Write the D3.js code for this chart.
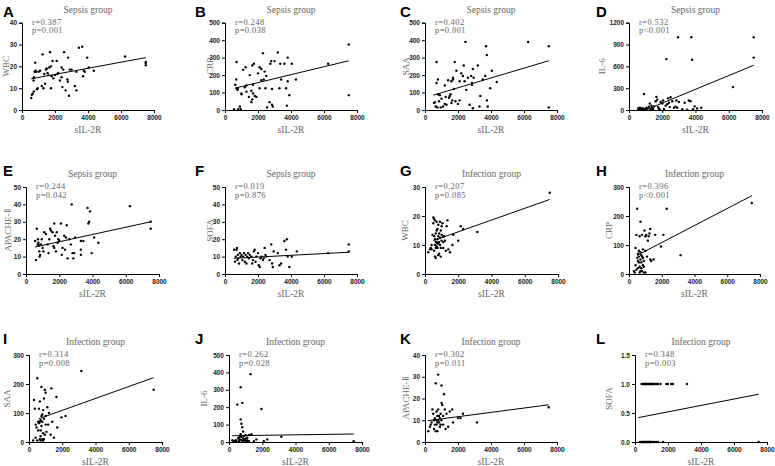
<!DOCTYPE html>
<html lang="en">
<head>
    <meta charset="UTF-8">
    <script src="https://d3js.org/d3.v7.min.js"></script>
    <title>sIL-2R correlations</title>
    <style>
        html,
        body {
            margin: 0px;
            padding: 0px;
            background-color: #ffffff;
        }
        .tick text {
            font-family: "Liberation Sans", Arial, sans-serif;
            font-weight: bold;
            font-size: 6.5px;
            fill: #222;
        }
        .serif {
            font-family: "Liberation Serif", "Times New Roman", serif;
            fill: #666;
        }
        .stat {
            letter-spacing: 0.4px;
        }
        .letter {
            font-family: "Liberation Sans", Arial, sans-serif;
            font-weight: bold;
            font-size: 15px;
            fill: #000;
        }
    </style>
</head>
<body>
    <div id="chart"></div>
    <script>

        // --- chart data ---
        const letters = ["A", "B", "C", "D", "E", "F", "G", "H", "I", "J", "K", "L"];
        const groupTitles = ["Sepsis group", "Sepsis group", "Sepsis group", "Sepsis group",
            "Sepsis group", "Sepsis group", "Infection group", "Infection group",
            "Infection group", "Infection group", "Infection group", "Infection group"];
        const yLabels = ["WBC", "CRP", "SAA", "IL-6", "APACHE-Ⅱ", "SOFA",
            "WBC", "CRP", "SAA", "IL-6", "APACHE-Ⅱ", "SOFA"];
        const rLabels = ["r=0.387", "r=0.248", "r=0.402", "r=0.532", "r=0.244", "r=0.019",
            "r=0.207", "r=0.396", "r=0.314", "r=0.262", "r=0.302", "r=0.348"];
        const pLabels = ["p=0.001", "p=0.038", "p=0.001", "p<0.001", "p=0.042", "p=0.876",
            "p=0.085", "p<0.001", "p=0.008", "p=0.028", "p=0.011", "p=0.003"];
        const yMaxes = [40, 500, 500, 1200, 50, 50, 30, 300, 300, 500, 40, 1.5];
        const yTicks = [
            [0, 10, 20, 30, 40], [0, 100, 200, 300, 400, 500], [0, 100, 200, 300, 400, 500],
            [0, 300, 600, 900, 1200], [0, 10, 20, 30, 40, 50], [0, 10, 20, 30, 40, 50],
            [0, 10, 20, 30], [0, 100, 200, 300], [0, 100, 200, 300],
            [0, 100, 200, 300, 400, 500], [0, 10, 20, 30, 40], [0, 0.5, 1.0, 1.5]];
        const xTicks = [0, 2000, 4000, 6000, 8000];
        const xLabel = "sIL-2R";

        // fitted lines as drawn: [x0, y0, x1, y1]
        const fitLines = [
            [560, 14.3, 7500, 24], [600, 125, 7500, 282], [500, 85, 7500, 282],
            [1100, 10, 7500, 615], [540, 15.5, 7500, 30], [540, 9, 7500, 12.5],
            [500, 11.5, 7500, 25.7], [490, 64, 7500, 270], [580, 80, 7500, 222],
            [200, 36, 7500, 46], [160, 9.8, 7500, 17.1], [200, 0.42, 7500, 0.824]];

        const sepsisWBC = [[560,5.5],[600,7],[650,7.5],[720,8.5],[700,13.5],[720,15],[760,17.5],[800,21.7],[820,18],[850,17.5],[900,9.5],[950,10],[1000,17.5],[1100,18],[1200,11],[1250,25.5],[1300,10],[1350,16.5],[1400,12],[1450,18.5],[1500,19],[1550,17],[1600,16],[1650,19.5],[1700,26.5],[1750,10],[1750,20],[1800,15.5],[1850,22.5],[1900,14.5],[2000,16],[2100,22.5],[2150,16.5],[2200,17],[2300,13.5],[2400,15],[2400,19.5],[2450,10.5],[2500,18.5],[2550,26.5],[2650,9],[2750,14],[2780,13],[2800,24],[2850,6.5],[2900,18.5],[3000,18.5],[3200,11],[3300,9],[3300,17.5],[3450,28.5],[3650,29],[3700,15.5],[3750,18],[3800,17.5],[3950,24],[4050,19.5],[4350,18],[6250,24.5],[7500,22],[7500,20.5],[7500,21.5]];
        const sepsisCRP = [[550,5],[620,145],[680,175],[700,275],[720,125],[750,115],[780,120],[800,5],[900,20],[950,5],[1000,90],[1000,95],[1100,230],[1200,130],[1250,245],[1300,140],[1300,105],[1450,75],[1500,200],[1600,45],[1600,110],[1650,255],[1650,60],[1700,95],[1700,145],[1750,265],[1800,80],[1900,75],[2000,210],[2100,245],[2100,125],[2200,170],[2200,235],[2300,325],[2350,175],[2400,220],[2450,125],[2500,195],[2550,15],[2700,45],[2750,265],[2800,280],[2850,30],[2900,20],[2850,120],[3000,280],[3200,330],[3300,125],[3350,265],[3400,175],[3600,265],[3700,125],[3750,25],[3800,300],[3800,165],[3900,85],[4050,265],[4300,175],[6250,265],[7500,375],[7500,85]];
        const sepsisSAA = [[550,40],[600,45],[650,20],[700,275],[700,155],[750,15],[780,175],[800,90],[850,50],[900,85],[950,15],[1000,65],[1100,20],[1200,140],[1200,35],[1250,75],[1300,30],[1400,170],[1450,70],[1500,80],[1550,90],[1600,165],[1600,40],[1650,55],[1700,185],[1700,175],[1750,120],[1800,275],[1850,50],[1900,225],[2000,35],[2100,55],[2100,165],[2200,210],[2300,195],[2350,255],[2400,165],[2450,390],[2500,115],[2600,185],[2700,30],[2800,195],[2850,145],[2850,155],[2900,10],[2900,235],[2950,185],[3200,255],[3300,20],[3350,80],[3500,175],[3650,195],[3700,365],[3750,315],[3750,55],[3800,20],[3950,125],[4050,225],[4350,160],[6250,390],[7500,365],[7500,15]];
        const sepsisIL6 = [[550,20],[600,10],[650,30],[700,15],[750,25],[800,5],[850,20],[900,220],[950,10],[1000,15],[1050,30],[1100,20],[1200,45],[1250,90],[1300,10],[1350,60],[1400,30],[1450,15],[1500,50],[1600,120],[1650,180],[1700,140],[1750,40],[1800,20],[1850,5],[1900,110],[2000,90],[2050,130],[2100,15],[2200,60],[2250,700],[2300,80],[2350,160],[2400,100],[2450,40],[2500,175],[2600,120],[2700,30],[2800,45],[2850,130],[2900,30],[2950,1000],[3000,110],[3200,10],[3350,100],[3500,5],[3600,130],[3700,120],[3750,1000],[3800,690],[3850,10],[3950,50],[4100,20],[4350,30],[6250,315],[7500,1000],[7500,720]];
        const sepsisAPACHE = [[550,19],[600,8],[650,26],[700,17],[720,20],[750,18],[780,16.5],[800,13],[820,10],[850,11],[900,17],[950,20],[1000,15],[1050,13],[1100,24],[1200,23],[1300,17],[1350,12],[1400,20],[1450,26],[1500,25],[1600,24],[1650,16],[1700,29],[1700,15],[1750,22],[1800,13],[1850,24],[1900,18],[1950,20],[2000,19],[2100,29],[2150,11],[2200,15],[2300,22],[2350,14],[2400,21],[2450,28],[2500,9],[2600,20],[2700,17],[2750,40],[2800,12],[2850,9],[2900,12],[2950,21],[3300,19],[3300,14],[3300,11],[3450,19],[3700,38],[3750,29],[3800,30],[3850,36],[3950,12],[4100,21],[4350,18],[6250,39],[7500,30],[7500,26]];
        const sepsisSOFA = [[550,14],[600,7],[650,10],[700,14],[720,15],[750,8],[780,11],[800,9],[850,6],[900,12],[950,10],[1000,11],[1050,8],[1100,10],[1150,12],[1200,7],[1250,11],[1300,6],[1350,10],[1400,12],[1450,9],[1500,11],[1600,10],[1650,6],[1700,8],[1750,13],[1800,14],[1850,7],[1900,10],[2000,12],[2050,5],[2100,4],[2150,9],[2200,10],[2300,8],[2350,9],[2400,15],[2450,11],[2500,10],[2700,8],[2800,17],[2850,6],[2900,4],[2950,13],[3200,12],[3300,5],[3400,6],[3600,19],[3700,14],[3750,20],[3800,10],[3900,4],[4050,10],[4350,13],[6250,12],[7500,17],[7500,13]];
        const infectionWBC = [[200,7.5],[300,8.5],[350,9],[400,10],[400,8.5],[450,13.5],[500,19.5],[500,17.5],[550,19],[550,8],[550,13],[600,12],[600,18.5],[600,6],[600,10],[650,5.5],[650,9],[650,14],[650,11],[700,11],[700,18],[700,9.5],[700,15],[750,10.5],[750,15.5],[750,12],[750,9],[800,13],[800,17],[800,10.5],[800,6.5],[850,7],[850,14],[850,11],[900,18],[900,10],[900,12.5],[950,6],[950,9],[950,15],[1000,16.5],[1000,11.5],[1000,13.5],[1050,17.5],[1100,11],[1100,9],[1100,13],[1150,13],[1200,11.5],[1250,8],[1300,16.5],[1350,18.5],[1400,8.5],[1500,7.5],[1650,10],[1700,13.5],[2000,11.5],[2150,16.5],[2300,15.5],[3150,14.5],[7500,28]];
        const infectionCRP = [[300,10],[350,5],[400,90],[400,30],[450,135],[450,15],[500,225],[500,55],[550,45],[550,20],[550,70],[600,80],[600,60],[600,40],[650,130],[650,25],[650,5],[700,180],[700,50],[700,75],[700,10],[750,40],[750,20],[750,65],[800,60],[800,135],[800,10],[850,30],[850,55],[850,85],[900,45],[900,5],[900,25],[950,150],[1000,130],[1000,80],[1000,5],[1050,135],[1100,60],[1150,115],[1200,130],[1250,140],[1300,155],[1300,50],[1350,45],[1500,50],[1600,135],[1950,95],[2100,135],[2300,225],[3150,65],[7500,245]];
        const infectionSAA = [[250,5],[300,145],[350,115],[400,60],[400,15],[450,50],[500,220],[500,5],[550,40],[550,70],[600,115],[600,65],[650,70],[650,140],[650,10],[700,20],[700,5],[700,75],[700,40],[750,190],[750,90],[750,55],[800,10],[800,95],[800,70],[850,5],[850,110],[850,30],[900,80],[900,150],[900,10],[950,180],[950,25],[1000,170],[1000,90],[1000,60],[1050,35],[1100,120],[1150,60],[1200,100],[1300,25],[1350,185],[1400,70],[1500,15],[1650,155],[1700,50],[1950,85],[2200,90],[3150,245],[7500,180]];
        const infectionIL6 = [[200,10],[300,5],[400,10],[450,5],[500,215],[550,20],[600,5],[600,25],[650,30],[650,15],[700,315],[700,130],[700,45],[750,105],[750,10],[750,30],[800,85],[800,225],[850,60],[850,20],[850,5],[900,35],[900,15],[950,10],[1000,40],[1000,20],[1050,5],[1100,25],[1100,10],[1200,40],[1200,5],[1300,390],[1350,45],[1500,5],[1650,15],[1950,190],[2100,5],[2300,15],[3150,30],[7500,5]];
        const infectionAPACHE = [[200,5],[300,7],[350,8],[400,9],[450,15],[500,13],[550,10],[550,6],[600,11],[600,8],[650,27],[650,5],[700,14],[700,8],[700,10],[750,12],[750,5],[750,9],[800,31],[800,10],[800,15],[850,9],[850,12],[900,11],[900,7],[950,13],[950,8],[1000,26],[1000,18],[1000,10],[1050,17],[1100,8],[1100,12],[1150,22],[1200,15],[1250,6],[1300,13],[1400,7],[1500,14],[1650,15],[1700,9],[2000,11],[2150,11],[2300,13],[3150,9],[7500,16]];
        const infectionSOFA = [[400,1],[500,1],[550,1],[600,1],[650,1],[700,1],[750,1],[800,1],[850,1],[900,1],[950,1],[1000,1],[1050,1],[1100,1],[1200,1],[1300,1],[1400,1],[1550,1],[1900,1],[2000,1],[2200,1],[2300,1],[3150,1],
            [300,0],[400,0],[450,0],[500,0],[550,0],[600,0],[650,0],[700,0],[750,0],[800,0],[850,0],[900,0],[950,0],[1000,0],[1100,0],[1200,0],[1300,0],[1400,0],[1700,0],[7500,0]];

        const panelData = [sepsisWBC, sepsisCRP, sepsisSAA, sepsisIL6, sepsisAPACHE, sepsisSOFA,
            infectionWBC, infectionCRP, infectionSAA, infectionIL6, infectionAPACHE, infectionSOFA];

        // --- layout (pixels) ---
        // plot box per panel: [left, right, top, bottom]
        const panelBoxes = [
            [22, 154, 22.7, 110], [225, 357, 22.7, 110], [425, 557, 22.7, 110], [629, 762, 22.7, 110],
            [26, 159, 187, 274], [225, 357, 187, 274], [425, 558, 187, 274], [629, 760, 187, 274],
            [29, 162, 355, 442], [229, 362, 355, 442], [425, 557, 355, 442], [635, 767, 355, 442]];
        const letterX = [3, 195, 400, 596];
        const letterY = [17, 176, 344];
        // baseline distance of the rotated y label from the axis
        const yLabelGap = [13, 12, 16, 24, 15, 12, 17, 17, 19, 22, 16, 23];

        const width = 775, height = 466;
        const svg = d3.select('#chart').append('svg')
            .attr('width', width).attr('height', height);

        const yFormat = (i) => i === 11 ? d3.format('.1f') : d3.format('d');

        panelData.forEach((pts, i) => {
            const [left, right, top, bottom] = panelBoxes[i];
            const x = d3.scaleLinear().domain([0, 8000]).range([left, right]);
            const y = d3.scaleLinear().domain([0, yMaxes[i]]).range([bottom, top]);
            const g = svg.append('g');

            g.append('text').attr('class', 'letter')
                .attr('x', letterX[i % 4]).attr('y', letterY[Math.floor(i / 4)])
                .text(letters[i]);

            g.append('text').attr('class', 'serif')
                .attr('x', (left + right) / 2).attr('y', top - 10)
                .attr('text-anchor', 'middle').attr('font-size', '9.5px')
                .text(groupTitles[i]);

            g.append('g')
                .attr('transform', `translate(0,${bottom})`)
                .call(d3.axisBottom(x).tickValues(xTicks).tickFormat(d3.format('d'))
                    .tickSizeOuter(0).tickSize(3).tickPadding(2));

            g.append('g')
                .attr('transform', `translate(${left},0)`)
                .call(d3.axisLeft(y).tickValues(yTicks[i]).tickFormat(yFormat(i))
                    .tickSizeOuter(0).tickSize(3).tickPadding(2));

            g.selectAll('.domain').attr('stroke', '#000').attr('stroke-width', 1);
            g.selectAll('.tick line').attr('stroke', '#000');

            g.append('text').attr('class', 'serif')
                .attr('x', (left + right) / 2).attr('y', bottom + 23)
                .attr('text-anchor', 'middle').attr('font-size', '9.5px')
                .text(xLabel);

            g.append('text').attr('class', 'serif')
                .attr('transform', `translate(${left - yLabelGap[i]},${(top + bottom) / 2}) rotate(-90)`)
                .attr('text-anchor', 'middle').attr('font-size', '9px')
                .text(yLabels[i]);

            g.append('text').attr('class', 'serif stat')
                .attr('x', left + 10).attr('y', top + 2).attr('font-size', '8.5px')
                .text(rLabels[i]);
            g.append('text').attr('class', 'serif stat')
                .attr('x', left + 10).attr('y', top + 10.5).attr('font-size', '8.5px')
                .text(pLabels[i]);

            const [x0, y0, x1, y1] = fitLines[i];
            g.append('line')
                .attr('x1', x(x0)).attr('y1', y(y0))
                .attr('x2', x(x1)).attr('y2', y(y1))
                .attr('stroke', '#000').attr('stroke-width', 1);

            g.selectAll('circle')
                .data(pts)
                .join('circle')
                .attr('cx', d => x(d[0]))
                .attr('cy', d => y(d[1]))
                .attr('r', 1.2)
                .attr('fill', '#000');
        });

    </script>
</body>
</html>
